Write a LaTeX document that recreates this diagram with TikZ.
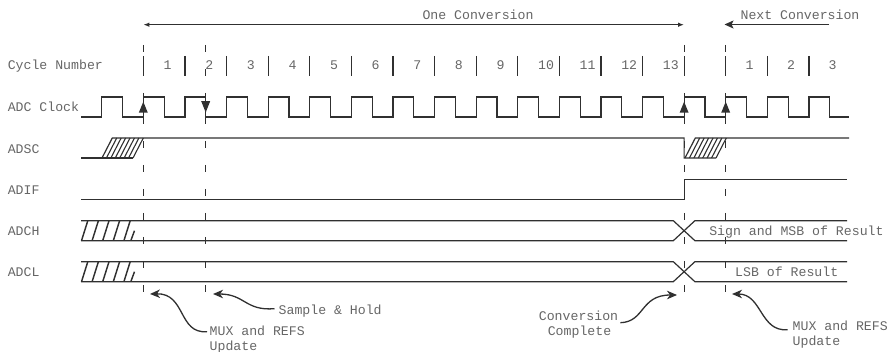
\documentclass[tikz,border=0pt]{standalone}
\usepackage{fontspec}
\setmonofont{Liberation Mono}
\usetikzlibrary{arrows.meta}
\definecolor{sig}{HTML}{303030}
\definecolor{txt}{HTML}{666666}
\tikzset{
  lbl/.style={font=\ttfamily\fontsize{13.2}{15}\selectfont, text=txt, inner sep=0pt, text height=7.5pt, text depth=0pt},
  sigline/.style={draw=sig, line width=1.2pt, line join=miter},
  hatchline/.style={draw=sig, line width=1.1pt},
  bushatch/.style={draw=sig, line width=1.45pt},
  sepbar/.style={draw=sig, line width=1.2pt},
  markline/.style={draw=sig, line width=1.1pt, dash pattern=on 7pt off 17pt},
  curvearrow/.style={draw=sig, line width=1.3pt, -{Stealth[length=10pt,width=8.5pt,inset=3pt]}},
}
\def\cko{101.7}\def\ckp{41.6}\def\ckh{20.8}
\begin{document}
\begin{tikzpicture}[x=1pt,y=-1pt]
\useasboundingbox (0,0) rectangle (890,352);

% row labels
\node[lbl,anchor=west] (lcyc) at (7.6,66) {Cycle Number};
\node[lbl,anchor=west] (lclk) at (7.6,108) {ADC Clock};
\node[lbl,anchor=west] (ladsc) at (7.6,150) {ADSC};
\node[lbl,anchor=west] (ladif) at (7.6,191) {ADIF};
\node[lbl,anchor=west] (ladch) at (7.6,232) {ADCH};
\node[lbl,anchor=west] (ladcl) at (7.6,273) {ADCL};

% conversion arrows
\coordinate (ocL) at (143.3,24.7);
\coordinate (ocR) at (684.1,24.7);
\draw[sigline, {Latex[length=6pt,width=4.5pt]}-{Latex[length=6pt,width=4.5pt]}] (ocL) -- (ocR);
\node[lbl] (onec) at (478,16) {One Conversion};
\coordinate (ncR) at (829,24.5);
\coordinate (ncL) at (724.5,24.5);
\draw[sigline, -{Stealth[length=9pt,width=8pt,inset=2pt]}] (ncR) -- (ncL);
\node[lbl] (nextc) at (800,16) {Next Conversion};

% cycle separators and numbers
\foreach \k in {1,...,17} \draw[sepbar] ({\cko+\k*\ckp},56) -- ({\cko+\k*\ckp},76);
\foreach \n in {1,...,13} \node[lbl,anchor=west] (cn\n) at ({\cko+\n*\ckp+20.2},65.5) {\n};
\foreach \n/\k in {1/15,2/16,3/17} \node[lbl,anchor=west] (nn\n) at ({\cko+\k*\ckp+19.6},65.5) {\n};

% clock
\draw[sigline] (81,117) -- (\cko,117)
  \foreach \k in {0,...,17} { -- ({\cko+\k*\ckp},117) -- ({\cko+\k*\ckp},97) -- ({\cko+\k*\ckp+\ckh},97) -- ({\cko+\k*\ckp+\ckh},117) }
  -- (849,117);

% dashed event lines
\foreach \x/\nm in {143.3/a,205.7/b,684.1/c,725.7/d} {
  \coordinate (top\nm) at (\x,45);
  \coordinate (bot\nm) at (\x,292);
  \draw[markline] (top\nm) -- (bot\nm);
}

% clock edge markers
\fill[sig] (143.3,101.7) -- (138.8,112.7) -- (147.8,112.7) -- cycle;
\fill[sig] (205.7,112.5) -- (201.2,101.2) -- (210.2,101.2) -- cycle;
\fill[sig] (684.1,101.7) -- (679.6,112.7) -- (688.6,112.7) -- cycle;
\fill[sig] (725.7,101.7) -- (721.2,112.7) -- (730.2,112.7) -- cycle;

% ADSC
\draw[sigline] (81,158) -- (133,158);
\draw[sigline] (102,158) -- (112.3,138) -- (684.1,138) -- (684.1,158) -- (716,158);
\draw[sigline] (685,158) -- (695.3,138) -- (849,138);
\foreach \i in {1,...,7} \draw[hatchline] ({102+\i*31/7},158) -- ({112.3+\i*31/7},138);
\foreach \i in {1,...,7} \draw[hatchline] ({685+\i*31/7},158) -- ({695.3+\i*31/7},138);

% ADIF
\draw[sigline] (81,199.3) -- (684.1,199.3) -- (684.1,179.3) -- (847,179.3);

% ADCH / ADCL buses
\foreach \t/\b in {220.7/240.7,261.7/281.7} {
  \draw[sigline] (81,\t) -- (673.3,\t) -- (694.9,\b) -- (847,\b);
  \draw[sigline] (81,\b) -- (673.3,\b) -- (694.9,\t) -- (847,\t);
  \foreach \x in {81.5,92.1,102.7,113.3,123.9} \draw[bushatch] (\x,\b) -- ({\x+6.3},\t);
  \draw[bushatch] (130.8,\b) -- (134.5,{(\t+\b)/2});
}
\node[lbl] (msb) at (796.4,232) {Sign and MSB of Result};
\node[lbl] (lsb) at (786.7,272.7) {LSB of Result};

% annotations
\coordinate (tipA) at (150,294);
\coordinate (tipB) at (213,294);
\coordinate (tipC) at (677,295);
\coordinate (tipD) at (732,294);
\node[lbl,anchor=west] (mux1a) at (209.5,331.7) {MUX and REFS};
\node[lbl,anchor=west] (mux1b) at (209.5,346.7) {Update};
\node[lbl,anchor=west] (sh) at (278.5,310.7) {Sample \& Hold};
\node[lbl] (cc1) at (578.5,316.7) {Conversion};
\node[lbl] (cc2) at (579.5,331.7) {Complete};
\node[lbl,anchor=west] (mux2a) at (792.5,326.7) {MUX and REFS};
\node[lbl,anchor=west] (mux2b) at (792.5,341.7) {Update};

\draw[curvearrow] ([xshift=-2.5pt]mux1a.west) .. controls (178,334) and (186,293) .. (tipA);
\draw[curvearrow] ([xshift=-4pt,yshift=2pt]sh.west) .. controls (245,311) and (245,294) .. (tipB);
\draw[curvearrow] ([xshift=2pt,yshift=-6pt]cc1.east) .. controls (645,322) and (640,295) .. (tipC);
\draw[curvearrow] ([xshift=-5pt,yshift=-3pt]mux2a.west) .. controls (760,332) and (762,294) .. (tipD);
\end{tikzpicture}
\end{document}
